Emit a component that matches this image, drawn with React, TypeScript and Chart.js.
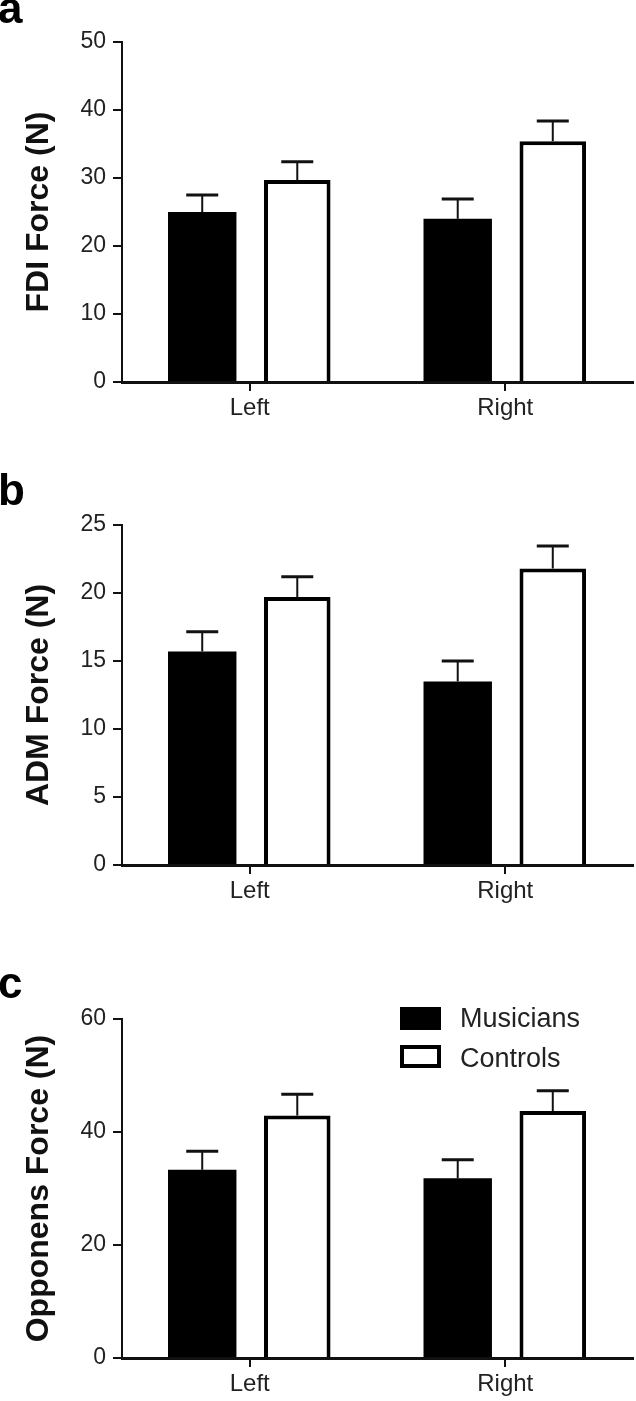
import React, { useEffect, useRef } from 'react';
import { Chart, registerables } from 'chart.js';

Chart.register(...registerables);

// ---------- data ----------
const categories = ['Left', 'Right'];
const seriesNames = ['Musicians', 'Controls'];

const fdiMusicians = [25.0, 24.0];
const fdiMusiciansErr = [2.5, 2.9];
const fdiControls = [29.7, 35.4];
const fdiControlsErr = [2.7, 3.0];

const admMusicians = [15.7, 13.5];
const admMusiciansErr = [1.45, 1.5];
const admControls = [19.7, 21.8];
const admControlsErr = [1.5, 1.65];

const oppMusicians = [33.3, 31.8];
const oppMusiciansErr = [3.3, 3.3];
const oppControls = [42.9, 43.7];
const oppControlsErr = [3.8, 3.6];

const fdiTicks = { max: 50, step: 10 };
const admTicks = { max: 25, step: 5 };
const oppTicks = { max: 60, step: 20 };

const FONT = '"Liberation Sans", Arial, Helvetica, sans-serif';

// ---------- plugins ----------
const errorBarPlugin = {
  id: 'errorBars',
  afterDatasetsDraw(chart: any) {
    const ctx = chart.ctx;
    const yScale = chart.scales.y;
    chart.data.datasets.forEach((ds: any, i: number) => {
      const meta = chart.getDatasetMeta(i);
      meta.data.forEach((el: any, j: number) => {
        const v = ds.data[j];
        const top = yScale.getPixelForValue(v);
        const cap = yScale.getPixelForValue(v + ds.errors[j]);
        ctx.save();
        ctx.strokeStyle = '#111';
        ctx.lineWidth = 2;
        ctx.beginPath();
        ctx.moveTo(el.x, top);
        ctx.lineTo(el.x, cap);
        ctx.stroke();
        ctx.lineWidth = 3;
        ctx.beginPath();
        ctx.moveTo(el.x - 16, cap);
        ctx.lineTo(el.x + 16, cap);
        ctx.stroke();
        ctx.restore();
      });
    });
  },
};

const decorPlugin = {
  id: 'decor',
  afterDraw(chart: any, _args: any, opts: any) {
    const ctx = chart.ctx;
    ctx.save();
    // panel letter
    ctx.fillStyle = '#000';
    ctx.font = `bold 44px ${FONT}`;
    ctx.textAlign = 'left';
    ctx.textBaseline = 'alphabetic';
    ctx.fillText(opts.letter, -2, opts.letterY);
    // legend
    if (opts.legend) {
      const { x, ys, textX, baselines } = opts.legend;
      chart.data.datasets.forEach((ds: any, i: number) => {
        const y = ys[i];
        ctx.fillStyle = ds.backgroundColor;
        ctx.fillRect(x, y, 41, 23);
        if (ds.borderWidth) {
          ctx.strokeStyle = '#000';
          ctx.lineWidth = 4;
          ctx.strokeRect(x + 2, y + 2, 37, 19);
        }
        ctx.fillStyle = '#222';
        ctx.font = `27px ${FONT}`;
        ctx.fillText(ds.label, textX, baselines[i]);
      });
    }
    ctx.restore();
  },
};

type PanelProps = {
  top: number;
  height: number;
  areaTop: number;
  areaBottom: number;
  title: string;
  musicians: number[];
  musiciansErr: number[];
  controls: number[];
  controlsErr: number[];
  ticks: { max: number; step: number };
  letter: string;
  letterY: number;
  legend?: any;
};

function Panel(p: PanelProps) {
  const ref = useRef<HTMLCanvasElement | null>(null);
  useEffect(() => {
    if (!ref.current) return;
    const chart = new Chart(ref.current, {
      type: 'bar',
      data: {
        labels: categories,
        datasets: [
          {
            label: seriesNames[0],
            data: p.musicians,
            errors: p.musiciansErr,
            backgroundColor: '#000',
            borderWidth: 0,
            categoryPercentage: 0.744,
            barPercentage: 0.72,
          } as any,
          {
            label: seriesNames[1],
            data: p.controls,
            errors: p.controlsErr,
            backgroundColor: '#fff',
            borderColor: '#000',
            borderWidth: 4,
            categoryPercentage: 0.744,
            barPercentage: 0.70,
          } as any,
        ],
      },
      options: {
        responsive: false,
        maintainAspectRatio: false,
        devicePixelRatio: 1,
        animation: false,
        layout: { padding: { top: p.areaTop, right: 3, left: 0, bottom: 0 } },
        plugins: {
          legend: { display: false },
          tooltip: { enabled: false },
          decor: { letter: p.letter, letterY: p.letterY, legend: p.legend },
        } as any,
        scales: {
          x: {
            type: 'category',
            z: 1,
            offset: true,
            grid: {
              offset: false,
              drawOnChartArea: false,
              drawTicks: true,
              tickLength: 9,
              color: '#111',
              lineWidth: 2,
            },
            border: { display: true, color: '#111', width: 3 },
            ticks: {
              color: '#222',
              padding: 3,
              font: { family: FONT, size: 24 },
              maxRotation: 0,
            },
            afterFit: (scale: any) => {
              scale.height = p.height - p.areaBottom;
            },
          },
          y: {
            type: 'linear',
            min: 0,
            max: p.ticks.max,
            grid: {
              drawOnChartArea: false,
              drawTicks: true,
              tickLength: 9,
              color: '#111',
              lineWidth: 2,
            },
            border: { display: true, color: '#111', width: 2 },
            ticks: {
              stepSize: p.ticks.step,
              color: '#222',
              padding: 7,
              font: { family: FONT, size: 23 },
            },
            title: {
              display: true,
              text: p.title,
              color: '#111',
              font: { family: FONT, size: 32, weight: 'bold' },
              padding: { top: 20, bottom: 0 },
            },
            afterFit: (scale: any) => {
              scale.width = 122;
            },
          },
        },
      } as any,
      plugins: [errorBarPlugin, decorPlugin],
    });
    return () => chart.destroy();
  }, []);
  return (
    <canvas
      ref={ref}
      width={636}
      height={p.height}
      style={{ position: 'absolute', left: 0, top: p.top, width: 636, height: p.height }}
    />
  );
}

export default function App() {
  return (
    <div style={{ position: 'absolute', left: 0, top: 0, width: 636, height: 1401, background: '#fff' }}>
      <Panel
        top={0}
        height={460}
        areaTop={42}
        areaBottom={382}
        title="FDI Force (N)"
        musicians={fdiMusicians}
        musiciansErr={fdiMusiciansErr}
        controls={fdiControls}
        controlsErr={fdiControlsErr}
        ticks={fdiTicks}
        letter="a"
        letterY={23}
      />
      <Panel
        top={460}
        height={480}
        areaTop={65}
        areaBottom={405}
        title="ADM Force (N)"
        musicians={admMusicians}
        musiciansErr={admMusiciansErr}
        controls={admControls}
        controlsErr={admControlsErr}
        ticks={admTicks}
        letter="b"
        letterY={45}
      />
      <Panel
        top={940}
        height={461}
        areaTop={79}
        areaBottom={418}
        title="Opponens Force (N)"
        musicians={oppMusicians}
        musiciansErr={oppMusiciansErr}
        controls={oppControls}
        controlsErr={oppControlsErr}
        ticks={oppTicks}
        letter="c"
        letterY={58}
        legend={{ x: 400, ys: [67, 105], textX: 460, baselines: [87, 127] }}
      />
    </div>
  );
}
